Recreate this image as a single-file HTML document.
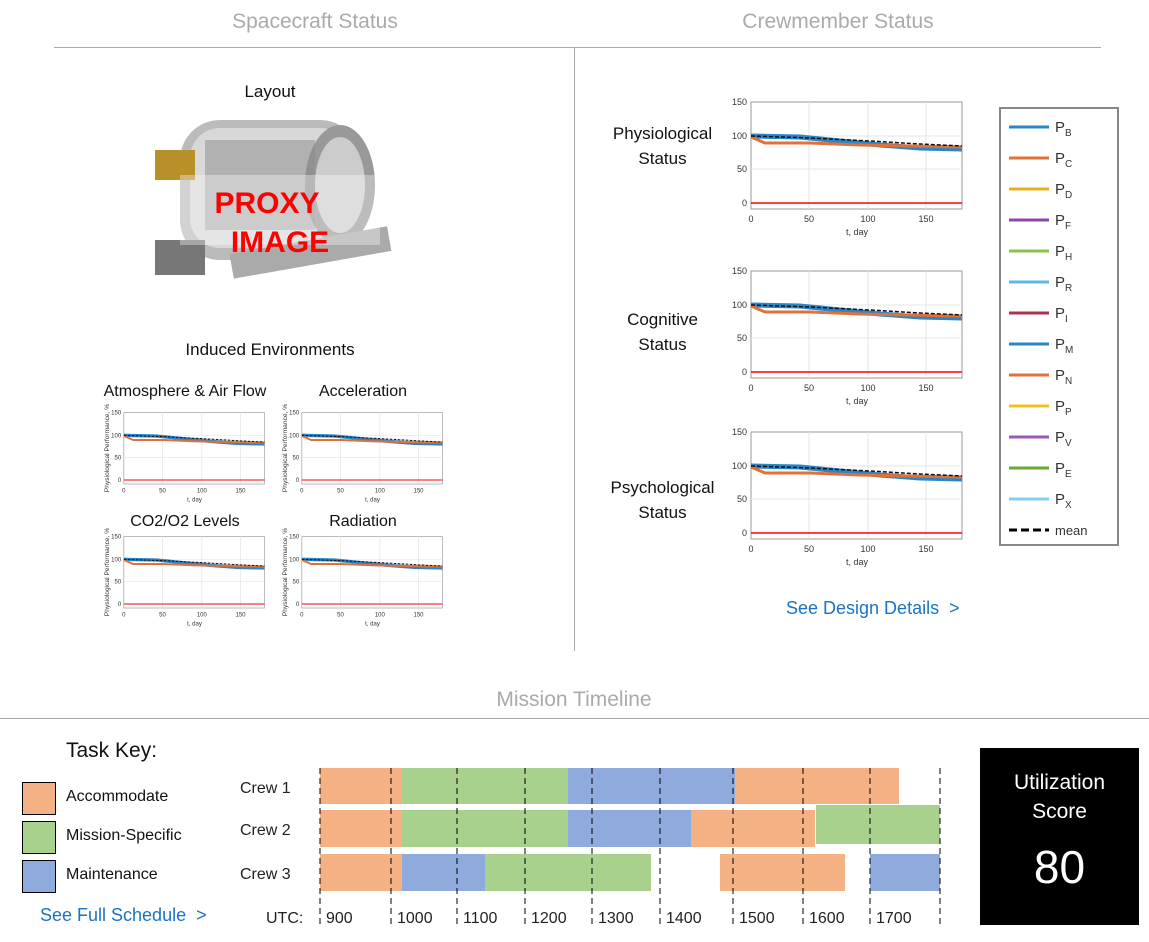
<!DOCTYPE html>
<html><head><meta charset="utf-8"><style>
body{margin:0;width:1149px;height:942px;background:#fff;position:relative;overflow:hidden;font-family:"Liberation Sans",sans-serif;color:#111}
.a{position:absolute}
.h{color:#aaa;font-size:21px;text-align:center}
.t{font-size:17px;text-align:center}
.blue{color:#1a73c4}
svg{position:absolute;overflow:visible}
</style></head><body>
<div class="a h" style="left:165px;top:10px;width:300px">Spacecraft Status</div>
<div class="a h" style="left:688px;top:10px;width:300px">Crewmember Status</div>
<div class="a" style="left:54px;top:47px;width:1047px;height:1px;background:#aaa"></div>
<div class="a" style="left:574px;top:48px;width:1px;height:603px;background:#aaa"></div>
<div class="a t" style="left:170px;top:82px;width:200px">Layout</div>
<!-- proxy image -->
<svg style="left:150px;top:110px" width="245" height="180">
<rect x="30" y="10" width="180" height="140" rx="40" fill="#bbb"/>
<rect x="40" y="18" width="160" height="120" rx="30" fill="#d8d8d8"/>
<ellipse cx="190" cy="75" rx="35" ry="60" fill="#999"/>
<ellipse cx="190" cy="75" rx="25" ry="48" fill="#ccc"/>
<rect x="55" y="30" width="110" height="90" fill="#8a8a8a" opacity=".5"/>
<rect x="5" y="40" width="40" height="30" fill="#b8902a"/>
<rect x="5" y="130" width="50" height="35" fill="#777"/>
<rect x="80" y="130" width="160" height="25" fill="#aaa" transform="rotate(-10 160 140)"/>
<rect x="30" y="65" width="200" height="70" fill="#fff" opacity=".35"/>
<text x="117" y="103" font-size="30" font-weight="bold" fill="#f00" text-anchor="middle">PROXY</text>
<text x="130" y="142" font-size="30" font-weight="bold" fill="#f00" text-anchor="middle">IMAGE</text>
</svg>
<div class="a t" style="left:130px;top:340px;width:280px">Induced Environments</div>
<div class="a t" style="left:95px;top:383px;width:180px;font-size:16px">Atmosphere &amp; Air Flow</div>
<div class="a t" style="left:283px;top:383px;width:160px;font-size:16px">Acceleration</div>
<div class="a t" style="left:95px;top:513px;width:180px;font-size:16px">CO2/O2 Levels</div>
<div class="a t" style="left:283px;top:513px;width:160px;font-size:16px">Radiation</div>

<div class="a t" style="left:590px;top:121px;width:145px;line-height:25px">Physiological<br>Status</div>
<div class="a t" style="left:590px;top:307px;width:145px;line-height:25px">Cognitive<br>Status</div>
<div class="a t" style="left:590px;top:475px;width:145px;line-height:25px">Psychological<br>Status</div>

<!-- chart template copies -->
<svg style="left:720px;top:95px" width="250" height="150" viewBox="0 0 250 150">
<g id="c">
<rect x="31" y="7" width="211" height="107" fill="#fff" stroke="#999"/>
<g stroke="#e4e4e4"><line x1="89" y1="7" x2="89" y2="114"/><line x1="148" y1="7" x2="148" y2="114"/><line x1="206" y1="7" x2="206" y2="114"/><line x1="31" y1="41" x2="242" y2="41"/><line x1="31" y1="74" x2="242" y2="74"/></g>
<polyline points="31,41 80,42 120,46 160,50 200,53 242,54" fill="none" stroke="#2a86c8" stroke-width="5"/>
<polyline points="31,42 38,45 45,48 90,48 140,50 190,51 242,52" fill="none" stroke="#e3703a" stroke-width="3"/>
<polyline points="31,41 90,43 150,46 200,49 242,51" fill="none" stroke="#111" stroke-width="1.5" stroke-dasharray="4,2"/>
<line x1="31" y1="108" x2="242" y2="108" stroke="#f00" stroke-width="1.5"/>
<g font-size="9" fill="#333" text-anchor="end"><text x="27" y="10">150</text><text x="27" y="44">100</text><text x="27" y="77">50</text><text x="27" y="111">0</text></g>
<g font-size="9" fill="#333" text-anchor="middle"><text x="31" y="127">0</text><text x="89" y="127">50</text><text x="148" y="127">100</text><text x="206" y="127">150</text><text x="137" y="140">t, day</text></g>
</g></svg>
<svg style="left:720px;top:264px" width="250" height="150" viewBox="0 0 250 150"><use href="#c"/></svg>
<svg style="left:720px;top:425px" width="250" height="150" viewBox="0 0 250 150"><use href="#c"/></svg>
<svg style="left:103px;top:408px" width="167" height="100" viewBox="0 0 250 150"><use href="#c"/><text transform="translate(9 60) rotate(-90)" font-size="10" fill="#333" text-anchor="middle">Physiological Performance, %</text></svg>
<svg style="left:281px;top:408px" width="167" height="100" viewBox="0 0 250 150"><use href="#c"/><text transform="translate(9 60) rotate(-90)" font-size="10" fill="#333" text-anchor="middle">Physiological Performance, %</text></svg>
<svg style="left:103px;top:532px" width="167" height="100" viewBox="0 0 250 150"><use href="#c"/><text transform="translate(9 60) rotate(-90)" font-size="10" fill="#333" text-anchor="middle">Physiological Performance, %</text></svg>
<svg style="left:281px;top:532px" width="167" height="100" viewBox="0 0 250 150"><use href="#c"/><text transform="translate(9 60) rotate(-90)" font-size="10" fill="#333" text-anchor="middle">Physiological Performance, %</text></svg>

<!-- legend -->
<svg style="left:999px;top:107px" width="121" height="440">
<rect x="1" y="1" width="118" height="437" fill="#fff" stroke="#888" stroke-width="2"/>
<g stroke-width="3">
<line x1="10" y1="20" x2="50" y2="20" stroke="#2a86c8"/>
<line x1="10" y1="51" x2="50" y2="51" stroke="#e3703a"/>
<line x1="10" y1="82" x2="50" y2="82" stroke="#e8b020"/>
<line x1="10" y1="113" x2="50" y2="113" stroke="#8e44ad"/>
<line x1="10" y1="144" x2="50" y2="144" stroke="#8bc34a"/>
<line x1="10" y1="175" x2="50" y2="175" stroke="#5bb8e8"/>
<line x1="10" y1="206" x2="50" y2="206" stroke="#b03050"/>
<line x1="10" y1="237" x2="50" y2="237" stroke="#2a86c8"/>
<line x1="10" y1="268" x2="50" y2="268" stroke="#e3703a"/>
<line x1="10" y1="299" x2="50" y2="299" stroke="#f0c020"/>
<line x1="10" y1="330" x2="50" y2="330" stroke="#9b59b6"/>
<line x1="10" y1="361" x2="50" y2="361" stroke="#6aaa30"/>
<line x1="10" y1="392" x2="50" y2="392" stroke="#7fd0f5"/>
<line x1="10" y1="423" x2="50" y2="423" stroke="#000" stroke-dasharray="8,4"/>
</g>
<g font-size="15" fill="#333">
<text x="56" y="25">P<tspan font-size="10" dy="4">B</tspan></text>
<text x="56" y="56">P<tspan font-size="10" dy="4">C</tspan></text>
<text x="56" y="87">P<tspan font-size="10" dy="4">D</tspan></text>
<text x="56" y="118">P<tspan font-size="10" dy="4">F</tspan></text>
<text x="56" y="149">P<tspan font-size="10" dy="4">H</tspan></text>
<text x="56" y="180">P<tspan font-size="10" dy="4">R</tspan></text>
<text x="56" y="211">P<tspan font-size="10" dy="4">I</tspan></text>
<text x="56" y="242">P<tspan font-size="10" dy="4">M</tspan></text>
<text x="56" y="273">P<tspan font-size="10" dy="4">N</tspan></text>
<text x="56" y="304">P<tspan font-size="10" dy="4">P</tspan></text>
<text x="56" y="335">P<tspan font-size="10" dy="4">V</tspan></text>
<text x="56" y="366">P<tspan font-size="10" dy="4">E</tspan></text>
<text x="56" y="397">P<tspan font-size="10" dy="4">X</tspan></text>
<text x="56" y="428" font-size="13">mean</text>
</g></svg>
<div class="a blue" style="left:786px;top:598px;font-size:18px">See Design Details &nbsp;&gt;</div>

<div class="a h" style="left:424px;top:688px;width:300px">Mission Timeline</div>
<div class="a" style="left:0;top:718px;width:1149px;height:1px;background:#aaa"></div>
<div class="a" style="left:66px;top:739px;font-size:21px">Task Key:</div>
<div class="a" style="left:22px;top:782px;width:32px;height:31px;background:#f4b183;border:1px solid #000"></div>
<div class="a" style="left:22px;top:821px;width:32px;height:31px;background:#a9d18e;border:1px solid #000"></div>
<div class="a" style="left:22px;top:860px;width:32px;height:31px;background:#8faadc;border:1px solid #000"></div>
<div class="a" style="left:66px;top:788px;font-size:16px">Accommodate</div>
<div class="a" style="left:66px;top:827px;font-size:16px">Mission-Specific</div>
<div class="a" style="left:66px;top:866px;font-size:16px">Maintenance</div>
<div class="a blue" style="left:40px;top:905px;font-size:18px">See Full Schedule &nbsp;&gt;</div>

<svg style="left:230px;top:760px" width="730" height="175">
<g font-size="16" fill="#222"><text x="10" y="33">Crew 1</text><text x="10" y="75">Crew 2</text><text x="10" y="119">Crew 3</text><text x="36" y="163">UTC:</text></g>
<g>
<rect x="90" y="8" width="82" height="36" fill="#f4b183"/><rect x="172" y="8" width="166" height="36" fill="#a9d18e"/><rect x="338" y="8" width="167" height="36" fill="#8faadc"/><rect x="505" y="8" width="164" height="36" fill="#f4b183"/>
<rect x="90" y="50" width="82" height="37" fill="#f4b183"/><rect x="172" y="50" width="166" height="37" fill="#a9d18e"/><rect x="338" y="50" width="123" height="37" fill="#8faadc"/><rect x="461" y="50" width="124" height="37" fill="#f4b183"/><rect x="586" y="45" width="124" height="39" fill="#a9d18e"/>
<rect x="90" y="94" width="82" height="37" fill="#f4b183"/><rect x="172" y="94" width="83" height="37" fill="#8faadc"/><rect x="255" y="94" width="166" height="37" fill="#a9d18e"/><rect x="490" y="94" width="125" height="37" fill="#f4b183"/><rect x="640" y="94" width="70" height="37" fill="#8faadc"/>
</g>
<g stroke="#000" stroke-dasharray="6,4" stroke-width="1">
<line x1="90" y1="8" x2="90" y2="165"/><line x1="161" y1="8" x2="161" y2="165"/><line x1="227" y1="8" x2="227" y2="165"/><line x1="295" y1="8" x2="295" y2="165"/><line x1="362" y1="8" x2="362" y2="165"/><line x1="430" y1="8" x2="430" y2="165"/><line x1="503" y1="8" x2="503" y2="165"/><line x1="573" y1="8" x2="573" y2="165"/><line x1="640" y1="8" x2="640" y2="165"/><line x1="710" y1="8" x2="710" y2="165"/>
</g>
<g font-size="16" fill="#222"><text x="96" y="163">900</text><text x="167" y="163">1000</text><text x="233" y="163">1100</text><text x="301" y="163">1200</text><text x="368" y="163">1300</text><text x="436" y="163">1400</text><text x="509" y="163">1500</text><text x="579" y="163">1600</text><text x="646" y="163">1700</text></g>
</svg>
<div class="a" style="left:980px;top:748px;width:159px;height:177px;background:#000;color:#fff;text-align:center">
<div style="font-size:21px;line-height:29px;margin-top:20px">Utilization<br>Score</div>
<div style="font-size:46px;margin-top:14px">80</div>
</div>
</body></html>
